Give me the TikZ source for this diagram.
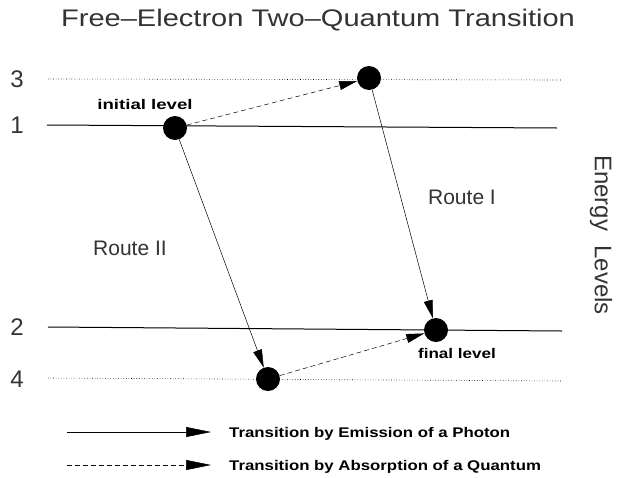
\documentclass[tikz,border=0pt]{standalone}
\usepackage{fontspec}
\setmainfont{Liberation Sans}
\usetikzlibrary{arrows.meta}
\begin{document}
\begin{tikzpicture}[x=1pt,y=-1pt,
  thin/.style={font=\fontsize{21}{24}\selectfont, text=black!80},
  lvl/.style={font=\fontsize{24}{28}\selectfont, text=black!80},
  boldlbl/.style={font=\bfseries\fontsize{14}{16}\selectfont},
  legend/.style={font=\bfseries\fontsize{14}{16}\selectfont, anchor=west, xscale=1.2},
  dot/.style={circle, fill=black, minimum width=22pt, minimum height=24pt, inner sep=0pt},
  solidlevel/.style={line width=1pt},
  dotlevel/.style={dotted, line width=0.6pt},
  emis/.style={line width=0.5pt, -{Triangle[length=18pt,width=9pt]}},
  absorb/.style={dashed, dash pattern=on 5pt off 3pt, line width=0.5pt, -{Triangle[length=18pt,width=9pt]}}
]
\useasboundingbox (0,0) rectangle (621,477);
% title
\node[text=black!80, font=\fontsize{24}{28}\selectfont, xscale=1.21] (title) at (318,20) {Free--Electron Two--Quantum Transition};
% level numbers
\node[lvl] (n3) at (17,79) {3};
\node[lvl] (n1) at (17,125) {1};
\node[lvl] (n2) at (17,327) {2};
\node[lvl] (n4) at (17,379) {4};
% level lines
\coordinate (l3a) at (48,79);  \coordinate (l3b) at (562,80);
\coordinate (l1a) at (47,125); \coordinate (l1b) at (557,128);
\coordinate (l2a) at (48,327); \coordinate (l2b) at (562,331);
\coordinate (l4a) at (48,378); \coordinate (l4b) at (562,381);
\draw[dotlevel] (l3a) -- (l3b);
\draw[solidlevel] (l1a) -- (l1b);
\draw[solidlevel] (l2a) -- (l2b);
\draw[dotlevel] (l4a) -- (l4b);
% dots
\node[dot] (init) at (175,128) {};
\node[dot] (top) at (369,78) {};
\node[dot] (fin) at (436,330) {};
\node[dot] (bot) at (268,379) {};
% labels
\node[boldlbl, xscale=1.33] (initlbl) at (145,104) {initial level};
\node[boldlbl, xscale=1.22] (finlbl) at (457,353) {final level};
\node[thin] (r1) at (462,197) {Route I};
\node[thin] (r2) at (130,248) {Route II};
\node[text=black!80, font=\fontsize{24}{28}\selectfont, rotate=-90] (el) at (601,235) {Energy\hspace{14pt}Levels};
% arrows
\draw[absorb] (init) -- (top);
\draw[emis] (top) -- (fin);
\draw[emis] (init) -- (bot);
\draw[absorb] (bot) -- (fin);
% legend
\coordinate (la1) at (67,432); \coordinate (lb1) at (211,432);
\coordinate (la2) at (67,465); \coordinate (lb2) at (211,465);
\draw[line width=0.5pt, -{Triangle[length=25pt,width=10pt]}] (la1) -- (lb1);
\draw[dashed, dash pattern=on 5pt off 3pt, line width=0.5pt, -{Triangle[length=25pt,width=10pt]}] (la2) -- (lb2);
\node[legend] (t1) at (225,434) {Transition by Emission of a Photon};
\node[legend] (t2) at (225,467) {Transition by Absorption of a Quantum};
\end{tikzpicture}
\end{document}
